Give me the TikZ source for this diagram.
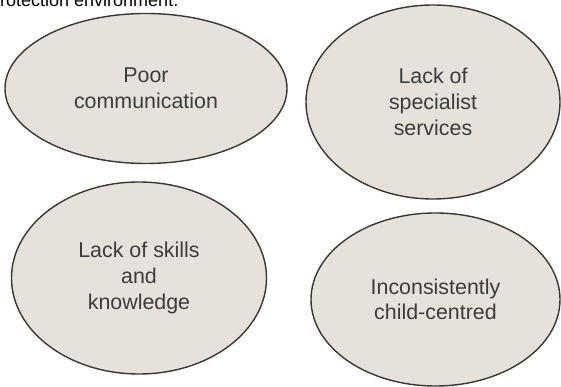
\documentclass[tikz,border=0pt]{standalone}
\usepackage{fontspec}
\setmainfont{Liberation Sans}
\usetikzlibrary{shapes.geometric}
\definecolor{fillc}{HTML}{E6E2DB}
\definecolor{linec}{HTML}{3A3733}
\definecolor{textc}{HTML}{3C3C3C}
\tikzset{
  bubble/.style={ellipse, draw=linec, fill=fillc, line width=1.4pt, inner sep=0pt,
    text=textc, align=center, font=\fontsize{21.4}{25.7}\selectfont},
}
\begin{document}
\begin{tikzpicture}[x=1pt,y=1pt]
\useasboundingbox (0,0) rectangle (561,387);
\clip (0,0) rectangle (561,387);
\node[anchor=base west, text=black, inner sep=0pt, font=\fontsize{18}{21}\selectfont] (title) at (-10,380.5) {protection environment.};
\node[bubble, minimum width=282pt, minimum height=150pt] (poor) at (146,298.5) {Poor\\communication};
\node[bubble, minimum width=254pt, minimum height=194pt] (spec) at (433,285) {Lack of\\specialist\\services};
\node[bubble, minimum width=255pt, minimum height=192pt] (skills) at (139,109) {Lack of skills\\and\\knowledge};
\node[bubble, minimum width=249pt, minimum height=173pt] (child) at (435.5,87.5) {Inconsistently\\child-centred};
\end{tikzpicture}
\end{document}
